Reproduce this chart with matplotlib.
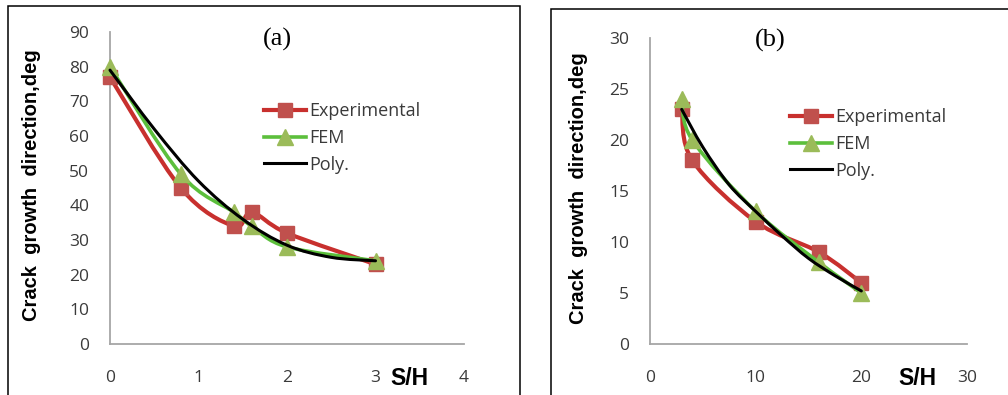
import matplotlib
matplotlib.use("Agg")
import matplotlib.pyplot as plt
from matplotlib.path import Path
from matplotlib.patches import PathPatch, Rectangle
from matplotlib.lines import Line2D

# panel (a): kut wzrostu pęknięcia vs S/H
a_x = [0, 0.8, 1.4, 1.6, 2, 3]
a_exp = [77, 45, 34, 38, 32, 23]
a_fem = [80, 49, 38, 34, 28, 24]
a_poly_x = [0, 0.5, 1, 1.5, 2, 2.5, 3]
a_poly_y = [79, 62, 47, 36, 28.5, 25, 24]

# panel (b)
b_x = [3, 4, 10, 16, 20]
b_exp = [23, 18, 12, 9, 6]
b_fem = [24, 20, 13, 8, 5]
b_poly_x = [3, 5, 7.5, 10, 12.5, 15, 17.5, 20]
b_poly_y = [23, 19.3, 15.6, 13, 10.6, 8.4, 6.7, 5.2]

RED_LINE = "#c8302e"
RED_MARK = "#c0504d"
GREEN_LINE = "#5cbf3c"
GREEN_MARK = "#9bbb59"
TXT = "#3a3a3a"
W, H = 1008, 395


def smooth(ax, xs, ys, color, lw):
    # gładka linia jak w Excelu (krzywe Beziera przez punkty)
    pts = list(zip(xs, ys))
    verts = [pts[0]]
    codes = [Path.MOVETO]
    n = len(pts)
    for i in range(n - 1):
        p0 = pts[i - 1] if i > 0 else pts[i]
        p1 = pts[i]
        p2 = pts[i + 1]
        p3 = pts[i + 2] if i + 2 < n else pts[i + 1]
        c1 = (p1[0] + (p2[0] - p0[0]) / 6, p1[1] + (p2[1] - p0[1]) / 6)
        c2 = (p2[0] - (p3[0] - p1[0]) / 6, p2[1] - (p3[1] - p1[1]) / 6)
        verts += [c1, c2, p2]
        codes += [Path.CURVE4] * 3
    patch = PathPatch(Path(verts, codes), fill=False, edgecolor=color, lw=lw,
                      transform=ax.transData, clip_on=False, capstyle="round")
    ax.add_patch(patch)
    return patch


def panel(px_left, px_right, px_top, xmax, ymax, xstep, ystep, xs, exp, fem,
          poly_x, poly_y, tag, tag_x, tag_y, leg_x, leg_y):
    ax = fig.add_axes([px_left / W, (H - 344) / H, (px_right - px_left) / W, (344 - px_top) / H])
    smooth(ax, xs, exp, RED_LINE, 3)
    ax.plot(xs, exp, "s", color=RED_MARK, ms=10.5, clip_on=False, zorder=3)
    smooth(ax, xs, fem, GREEN_LINE, 2.6).set_zorder(3.5)
    ax.plot(xs, fem, "^", color=GREEN_MARK, ms=11.5, clip_on=False, zorder=4)
    smooth(ax, poly_x, poly_y, "black", 2.2).set_zorder(5)

    ax.set_xlim(0, xmax)
    ax.set_ylim(0, ymax)
    ax.set_xticks(range(0, xmax + 1, xstep))
    ax.set_yticks(range(0, ymax + 1, ystep))
    ax.tick_params(length=0, labelsize=12.5, labelcolor=TXT)
    ax.tick_params(axis="x", pad=19)
    ax.tick_params(axis="y", pad=15)
    for lab in ax.get_xticklabels() + ax.get_yticklabels():
        lab.set_family("Open Sans")
    for s in ["top", "right"]:
        ax.spines[s].set_visible(False)
    for s in ["left", "bottom"]:
        ax.spines[s].set_color("#a6a6a6")
        ax.spines[s].set_linewidth(1.3)
    ax.patch.set_alpha(0)

    ax.set_ylabel("Crack  growth  direction,deg", fontsize=14.5, fontweight="bold",
                  family="Liberation Sans", color="black")
    ax.yaxis.set_label_coords(-0.195, 0.51)
    ax.text(0.845, -0.112, "S/H", transform=ax.transAxes, fontsize=16.5, fontweight="bold",
            family="Liberation Sans", ha="center", va="center")
    ax.text(tag_x, tag_y, tag, transform=ax.transAxes, fontsize=19,
            family="Liberation Serif", ha="center", va="center")

    handles = [
        Line2D([], [], color=RED_LINE, lw=3, marker="s", ms=10.5, mfc=RED_MARK, mec=RED_MARK),
        Line2D([], [], color=GREEN_LINE, lw=2.6, marker="^", ms=11.5, mfc=GREEN_MARK, mec=GREEN_MARK),
        Line2D([], [], color="black", lw=2.2),
    ]
    leg = ax.legend(handles, ["Experimental", "FEM", "Poly."], loc="upper left",
                    bbox_to_anchor=(leg_x, leg_y), frameon=False, borderpad=0,
                    borderaxespad=0, handlelength=2.3, handletextpad=0.2,
                    labelspacing=0.48, prop={"family": "Open Sans", "size": 13})
    for t in leg.get_texts():
        t.set_color(TXT)
    return ax


fig = plt.figure(figsize=(W / 100, H / 100), dpi=100)

# ramki paneli
fig.add_artist(Rectangle((8 / W, -0.02), 512 / W, (H - 6) / H + 0.02, transform=fig.transFigure,
                         fill=False, edgecolor="black", lw=1.1))
fig.add_artist(Rectangle((551 / W, -0.02), 470 / W, (H - 9) / H + 0.02, transform=fig.transFigure,
                         fill=False, edgecolor="black", lw=1.1))

panel(110, 464, 32, 4, 90, 1, 10, a_x, a_exp, a_fem, a_poly_x, a_poly_y,
      "(a)", 0.472, 0.975, 0.435, 0.775)
panel(650, 967, 38, 30, 30, 10, 5, b_x, b_exp, b_fem, b_poly_x, b_poly_y,
      "(b)", 0.379, 0.993, 0.443, 0.77)

fig.savefig("out.png", dpi=100)
